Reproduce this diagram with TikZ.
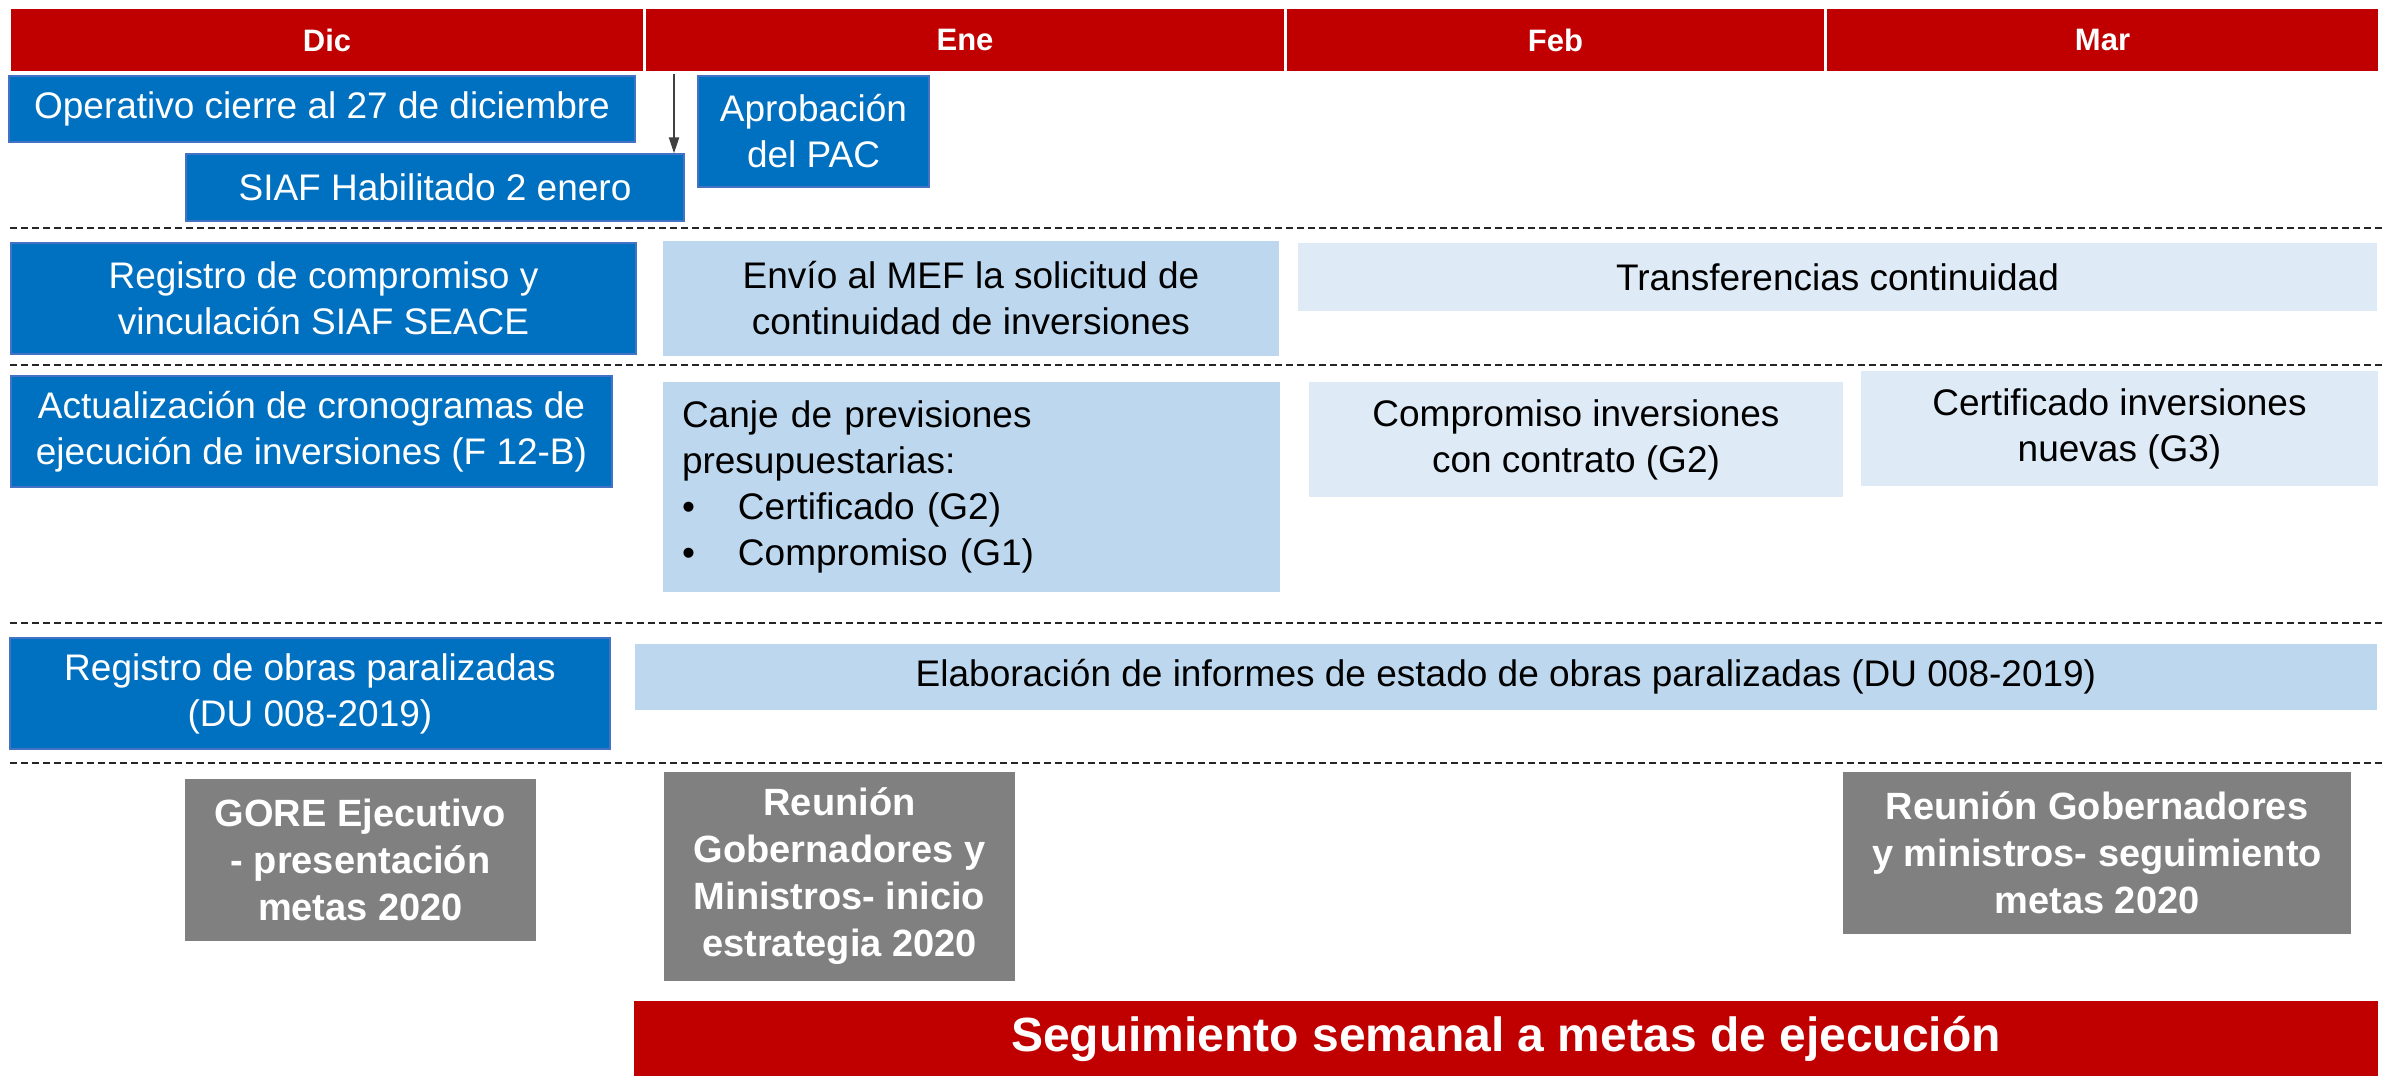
\documentclass[tikz,border=0pt]{standalone}
\usepackage{fontspec}
\setmainfont{Liberation Sans}
\usetikzlibrary{arrows.meta}
\definecolor{rojohdr}{HTML}{C00000}
\definecolor{azulcaja}{HTML}{0070C0}
\definecolor{azulborde}{HTML}{4472C4}
\definecolor{celeste}{HTML}{BDD7EE}
\definecolor{celestebajo}{HTML}{DEEBF7}
\definecolor{griscaja}{HTML}{808080}
\newcommand\cuerpo{\fontsize{37}{46}\selectfont}
\tikzset{
  mes/.style={fill=rojohdr, text=white, inner sep=0pt, minimum height=62pt,
    font=\fontsize{31}{37}\selectfont\bfseries},
  azul/.style={fill=azulcaja, draw=azulborde, line width=1.2pt, text=white,
    align=center, inner sep=0pt, font=\cuerpo},
  claro/.style={fill=celeste, text=black, align=center, inner sep=0pt, font=\cuerpo},
  masclaro/.style={fill=celestebajo, text=black, align=center, inner sep=0pt, font=\cuerpo},
  gris/.style={fill=griscaja, text=white, align=center, inner sep=0pt,
    font=\fontsize{38}{47}\selectfont\bfseries},
  corte/.style={draw=black!85, line width=2pt, dash pattern=on 7pt off 4pt}
}
\begin{document}
\begin{tikzpicture}[x=1pt, y=-1pt]
\useasboundingbox (0,0) rectangle (2382,1076);

% meses
\node[mes, minimum width=632pt] (dic) at (327,40) {Dic};
\node[mes, minimum width=638pt] (ene) at (965,40) {Ene};
\node[mes, minimum width=537pt] (feb) at (1555.5,40) {Feb};
\node[mes, minimum width=551pt] (mar) at (2102.5,40) {Mar};

% fila 1
\node[azul, minimum width=626pt, minimum height=66pt] (operativo) at (322,109) {Operativo cierre al 27 de diciembre};
\node[azul, minimum width=498pt, minimum height=67pt] (siaf) at (435,187.5) {SIAF Habilitado 2 enero};
\node[azul, minimum width=231pt, minimum height=111pt] (pac) at (813.5,131.5) {Aprobación\\del PAC};
\coordinate (flecha) at (674,74);
\draw[-{Triangle[length=16pt,width=10pt]}, draw=black!75, fill=black!75, line width=2pt] (flecha) -- (flecha |- siaf.north);

\draw[corte] (10,228) -- (2382,228);

% fila 2
\node[azul, minimum width=625pt, minimum height=111pt] (registro) at (323.5,298.5) {Registro de compromiso y\\vinculación SIAF SEACE};
\node[claro, minimum width=616pt, minimum height=115pt] (envio) at (971,298.5) {Envío al MEF la solicitud de\\continuidad de inversiones};
\node[masclaro, minimum width=1079pt, minimum height=68pt] (transf) at (1837.5,277) {Transferencias continuidad};

\draw[corte] (10,365) -- (2382,365);

% fila 3
\node[azul, minimum width=601pt, minimum height=111pt] (cronogramas) at (311.5,431.5) {Actualización de cronogramas de\\ejecución de inversiones (F 12-B)};
\node[claro, minimum width=617pt, minimum height=210pt, align=left, text width=579pt, inner xsep=19pt] (canje) at (971.5,487)
  {Canje de previsiones\\presupuestarias:\\\makebox[56pt][l]{\textbullet}Certificado (G2)\\\makebox[56pt][l]{\textbullet}Compromiso (G1)};
\node[masclaro, minimum width=534pt, minimum height=115pt] (compinv) at (1576,439.5) {Compromiso inversiones\\con contrato (G2)};
\node[masclaro, minimum width=517pt, minimum height=115pt] (certinv) at (2119.5,428.5) {Certificado inversiones\\nuevas (G3)};

\draw[corte] (10,623) -- (2382,623);

% fila 4
\node[azul, minimum width=600pt, minimum height=111pt] (obras) at (310,693.5) {Registro de obras paralizadas\\(DU 008-2019)};
\node[claro, minimum width=1742pt, minimum height=66pt] (informes) at (1506,677) {Elaboración de informes de estado de obras paralizadas (DU 008-2019)};

\draw[corte] (10,763) -- (2382,763);

% reuniones
\node[gris, minimum width=351pt, minimum height=162pt] (gore) at (360.5,860) {GORE Ejecutivo\\- presentación\\metas 2020};
\node[gris, minimum width=351pt, minimum height=209pt] (reuinicio) at (839.5,876.5) {Reunión\\Gobernadores y\\Ministros- inicio\\estrategia 2020};
\node[gris, minimum width=508pt, minimum height=162pt] (reuseguim) at (2097,853) {Reunión Gobernadores\\y ministros- seguimiento\\metas 2020};

\node[fill=rojohdr, text=white, inner sep=0pt, minimum width=1744pt, minimum height=75pt,
  font=\fontsize{48}{56}\selectfont\bfseries] (semanal) at (1506,1038.5) {Seguimiento semanal a metas de ejecución};

\end{tikzpicture}
\end{document}
